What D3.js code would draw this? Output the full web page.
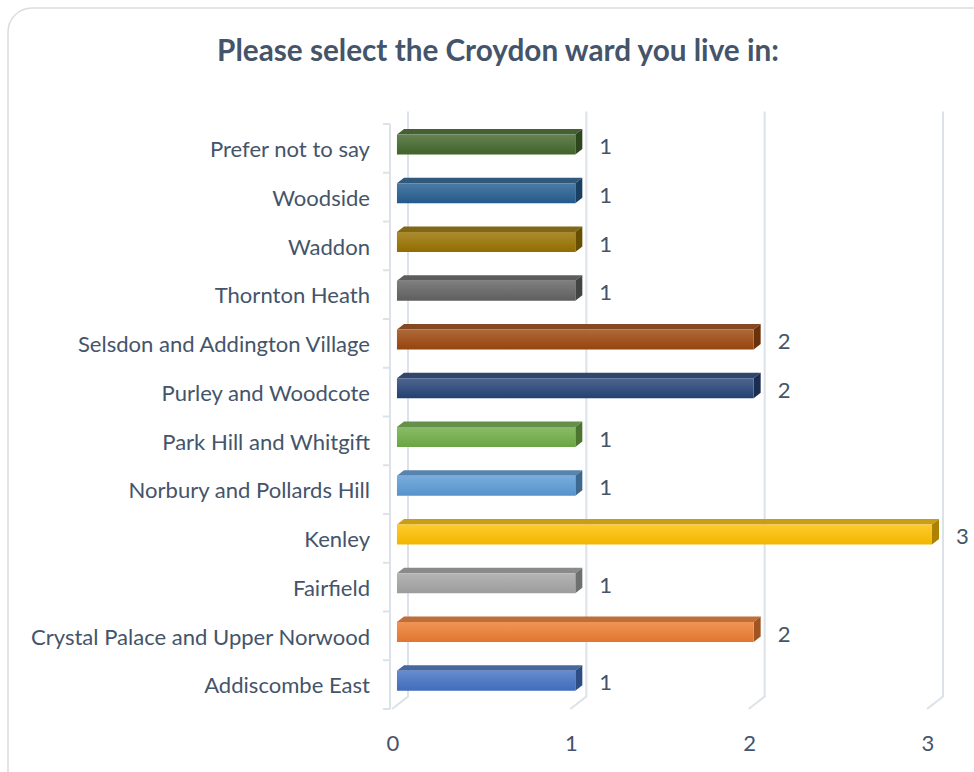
<!DOCTYPE html>
<html><head><meta charset="utf-8">
<script src="https://cdn.jsdelivr.net/npm/d3@7/dist/d3.min.js"></script>
<style>html,body{margin:0;padding:0;background:#fff;}svg{display:block;}</style>
</head><body>
<svg id="chart" width="974" height="772"></svg>
<script>
const title = "Please select the Croydon ward you live in:";
const categories = ["Addiscombe East","Crystal Palace and Upper Norwood","Fairfield","Kenley",
  "Norbury and Pollards Hill","Park Hill and Whitgift","Purley and Woodcote",
  "Selsdon and Addington Village","Thornton Heath","Waddon","Woodside","Prefer not to say"];
const values = [1,2,1,3,1,1,2,2,1,1,1,1];
const colors = ["#4472c4","#ed7d31","#a5a5a5","#ffc000","#5b9bd5","#70ad47",
  "#264478","#9e480e","#636363","#997300","#255e91","#43682b"];
const xTicks = [0,1,2,3];

const svg = d3.select("#chart");
const textColor = "#44546a";
const font = "Lato, 'Open Sans', sans-serif";

// card
svg.append("rect").attr("x",8).attr("y",8).attr("width",1000).attr("height",800)
  .attr("rx",24).attr("fill","#fff").attr("stroke","#d9dce1").attr("stroke-width",1.5);

// title fitted to width
const t = svg.append("text").attr("x",498).attr("y",61).attr("text-anchor","middle")
  .attr("font-family",font).attr("font-weight","bold").attr("fill",textColor)
  .attr("font-size",24).text(title);
const tw = t.node().getComputedTextLength();
t.attr("font-size", 24*562/tw);

// 3D frame
const x = d3.scaleLinear().domain([0,3]).range([392,927]);
const y = d3.scaleBand().domain(categories.slice().reverse()).range([124,709]);
const DX = 16, DY = -12.5;
const P = (xx, yy, d) => [xx + DX*d, yy + DY*d];

const grid = svg.append("g");
xTicks.forEach(v => {
  const b = P(x(v), 709, 1), top = P(x(v), 124, 1), f = P(x(v), 709, 0);
  grid.append("path").attr("d", d3.line()([top, b, f]))
    .attr("fill","none").attr("stroke","#dde1e8").attr("stroke-width",2);
});
// left axis
const ax = svg.append("g");
ax.append("line").attr("x1",390).attr("x2",390).attr("y1",124).attr("y2",709)
  .attr("stroke","#dde1e8").attr("stroke-width",2);
const bounds = y.domain().map(c => y(c)).concat([709]);
bounds.forEach(b => ax.append("line").attr("x1",383).attr("x2",390).attr("y1",b).attr("y2",b)
  .attr("stroke","#dde1e8").attr("stroke-width",2));

// gradients
const defs = svg.append("defs");
colors.forEach((c,i) => {
  const g = defs.append("linearGradient").attr("id","g"+i).attr("x1",0).attr("x2",0).attr("y1",0).attr("y2",1);
  g.append("stop").attr("offset","0%").attr("stop-color", d3.interpolateRgb(c,"#fff")(0.18));
  g.append("stop").attr("offset","100%").attr("stop-color", d3.color(c).darker(0.15));
});

// category labels (font fitted to width of longest label)
const cl = svg.append("g");
const lbls = categories.map(c => cl.append("text").attr("x",370).attr("y", y(c)+y.bandwidth()/2+1)
  .attr("dy","0.35em").attr("text-anchor","end").attr("font-family",font)
  .attr("font-size",18).attr("fill",textColor).text(c));
const lw = lbls[1].node().getComputedTextLength();
const lfs = 18*339/lw;
lbls.forEach(l => l.attr("font-size", lfs));

// bars
const barH = 20, d0 = 0.31, d1 = 0.75;
const bars = svg.append("g");
categories.forEach((c,i) => {
  const v = values[i];
  const yc = y(c) + y.bandwidth()/2;
  const yt = yc - barH/2, yb = yc + barH/2;
  const x0 = x(0), x1 = x(v);
  bars.append("path").attr("d", d3.line()([P(x0,yt,d0),P(x1,yt,d0),P(x1,yt,d1),P(x0,yt,d1)])+"Z")
    .attr("fill", d3.interpolateRgb(d3.color(colors[i]).darker(0.55), "#999")(0.15));
  bars.append("path").attr("d", d3.line()([P(x1,yt,d0),P(x1,yt,d1),P(x1,yb,d1),P(x1,yb,d0)])+"Z")
    .attr("fill", d3.color(colors[i]).darker(1.1));
  const [fx, fy] = P(x0, yt, d0);
  const [fx1] = P(x1, yt, d0);
  bars.append("rect").attr("x",fx).attr("y",fy).attr("width",fx1-fx).attr("height",barH)
    .attr("fill","url(#g"+i+")");
  bars.append("text").attr("x", x1 + 29).attr("y", yc - 2).attr("dy","0.35em")
    .attr("font-family",font).attr("font-size",lfs).attr("fill",textColor).text(v);
});

// x tick labels
xTicks.forEach(v => svg.append("text").attr("x", x(v)+1).attr("y",743).attr("dy","0.35em")
  .attr("text-anchor","middle").attr("font-family",font).attr("font-size",lfs).attr("fill",textColor).text(v));
</script>
</body></html>
